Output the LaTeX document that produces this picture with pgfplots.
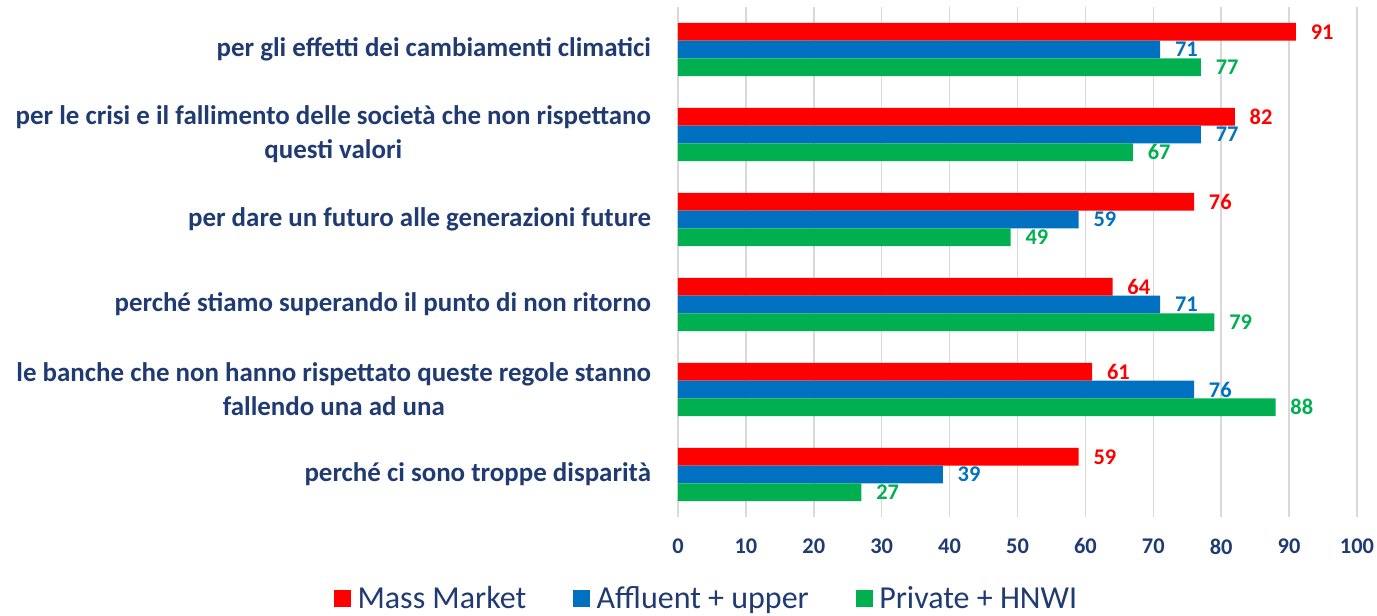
\documentclass[border=0pt]{standalone}
\usepackage{fontspec}
\setmainfont{Carlito}
\usepackage{pgfplots}
\pgfplotsset{compat=1.18}
\definecolor{cred}{HTML}{FF0000}
\definecolor{cblue}{HTML}{0070C0}
\definecolor{cgreen}{HTML}{00B050}
\definecolor{ctext}{HTML}{203A72}
\definecolor{cgrid}{HTML}{D9D9D9}
\begin{document}
\begin{tikzpicture}
\useasboundingbox (-508.5pt,-73.5pt) rectangle (524.25pt,387.75pt);
\begin{axis}[
  at={(0pt,0pt)}, anchor=south west,
  scale only axis, width=509.25pt, height=382.5pt,
  xbar, y dir=reverse,
  xmin=0, xmax=100, ymin=-0.5, ymax=5.5,
  xtick={0,10,...,100},
  ytick={0,1,2,3,4,5},
  yticklabels={
    per gli effetti dei cambiamenti climatici,
    {per le crisi e il fallimento delle società che non rispettano\\questi valori},
    per dare un futuro alle generazioni future,
    perché stiamo superando il punto di non ritorno,
    {le banche che non hanno rispettato queste regole stanno\\fallendo una ad una},
    perché ci sono troppe disparità},
  bar width=0.208,
  xmajorgrids, grid style={cgrid, line width=1.1pt},
  axis line style={draw=none},
  major tick length=0pt,
  /pgf/number format/assume math mode=true,
  xticklabel style={font=\bfseries\fontsize{16.8}{18}\selectfont, text=ctext, anchor=north, inner sep=0pt, yshift=-16pt},
  yticklabel style={font=\bfseries\fontsize{20.2}{25.5}\selectfont, text=ctext, align=center, anchor=east, inner sep=0pt, xshift=-20pt},
  nodes near coords,
  every node near coord/.append style={font=\bfseries\fontsize{16.8}{18}\selectfont, anchor=west, inner sep=0pt, xshift=11pt},
  legend style={at={(0.0425,-0.159)}, anchor=center, draw=none, fill=none,
    legend columns=3, font=\fontsize{24}{28}\selectfont, text=ctext,
    /tikz/every odd column/.append style={column sep=3pt},
    /tikz/every even column/.append style={column sep=33pt}},
  legend image code/.code={\fill[#1] (0pt,-6.4pt) rectangle (12.75pt,6.4pt);},
]
\addplot[fill=cred, draw=none, bar shift=-0.208, every node near coord/.append style={text=cred}]
  coordinates {(91,0) (82,1) (76,2) (64,3) (61,4) (59,5)};
\addplot[fill=cblue, draw=none, bar shift=0, every node near coord/.append style={text=cblue}]
  coordinates {(71,0) (77,1) (59,2) (71,3) (76,4) (39,5)};
\addplot[fill=cgreen, draw=none, bar shift=0.208, every node near coord/.append style={text=cgreen}]
  coordinates {(77,0) (67,1) (49,2) (79,3) (88,4) (27,5)};
\legend{Mass Market, Affluent + upper, Private + HNWI}
\end{axis}
\end{tikzpicture}
\end{document}
